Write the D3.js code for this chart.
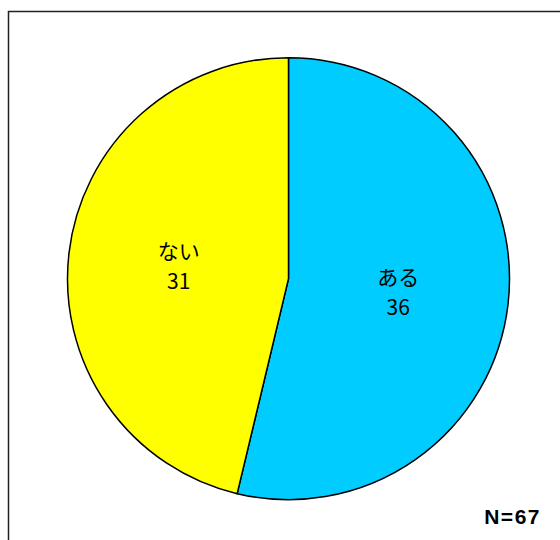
<!DOCTYPE html>
<html>
<head>
<meta charset="utf-8">
<script src="https://cdn.jsdelivr.net/npm/d3@7"></script>
<style>
  html, body { margin: 0; padding: 0; background: #fff; }
  svg { display: block; }
</style>
</head>
<body>
<svg id="chart" width="560" height="540"></svg>
<script>
// Survey answers, in drawing order (clockwise from 12 o'clock)
const categories = ["ある", "ない"];
const counts = [36, 31];
const colors = ["#00CCFF", "#FFFF00"];
const totalLabel = "N=67";

const svg = d3.select("#chart");

// outer frame
svg.append("rect")
  .attr("x", 8.5).attr("y", 11.5)
  .attr("width", 600).attr("height", 600)
  .attr("fill", "none")
  .attr("stroke", "#222")
  .attr("stroke-width", 1.5);

const cx = 288.5, cy = 278.7, r = 221;

const pie = d3.pie().sort(null).value(d => d.value);
const data = categories.map((c, i) => ({ name: c, value: counts[i], color: colors[i] }));
const arcs = pie(data);

const arc = d3.arc().innerRadius(0).outerRadius(r);
const labelArc = d3.arc().innerRadius(r / 2).outerRadius(r / 2);

const g = svg.append("g").attr("transform", `translate(${cx},${cy})`);

g.selectAll("path.slice")
  .data(arcs)
  .enter().append("path")
  .attr("class", "slice")
  .attr("d", arc)
  .attr("fill", d => d.data.color)
  .attr("stroke", "#000")
  .attr("stroke-width", 1.5)
  .attr("stroke-linejoin", "round");

const labels = g.selectAll("text.lbl")
  .data(arcs)
  .enter().append("text")
  .attr("class", "lbl")
  .attr("transform", d => `translate(${labelArc.centroid(d)})`)
  .attr("text-anchor", "middle")
  .attr("font-family", "'Noto Sans CJK JP', sans-serif")
  .attr("font-size", 21)
  .attr("fill", "#000");

labels.append("tspan")
  .attr("x", 0).attr("y", -7)
  .text(d => d.data.name);
labels.append("tspan")
  .attr("x", 0).attr("y", 23)
  .text(d => d.data.value);

svg.append("text")
  .attr("x", 541).attr("y", 524)
  .attr("text-anchor", "end")
  .attr("font-family", "'Liberation Sans', Arial, sans-serif")
  .attr("font-weight", "bold")
  .attr("font-size", 21)
  .attr("letter-spacing", 1.5)
  .attr("fill", "#000")
  .text(totalLabel);
</script>
</body>
</html>
